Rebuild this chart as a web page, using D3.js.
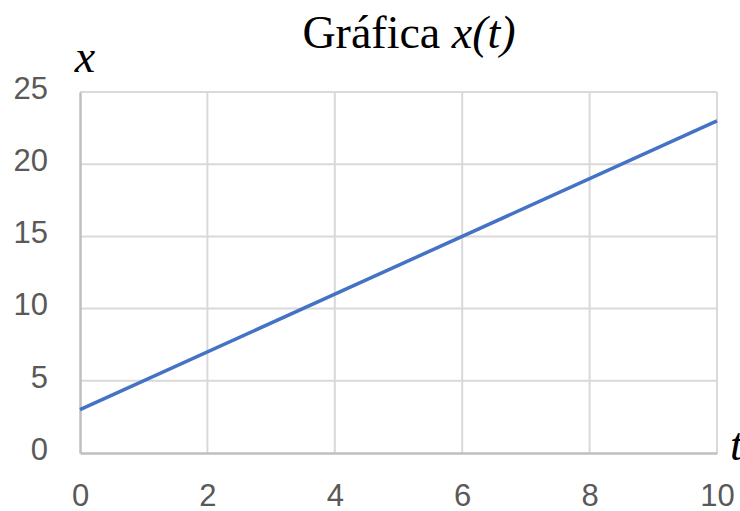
<!DOCTYPE html>
<html>
<head>
<meta charset="utf-8">
<script src="https://cdn.jsdelivr.net/npm/d3@7"></script>
<style>
  html, body { margin: 0; padding: 0; background: #fff; }
  svg { display: block; }
</style>
</head>
<body>
<svg id="chart" width="740" height="511"></svg>
<script>
// Position x as a function of time t
const tValues = [0, 10];
const xValues = [3, 23];
const xTicks = [0, 2, 4, 6, 8, 10];
const yTicks = [0, 5, 10, 15, 20, 25];

const svg = d3.select("#chart");
const plot = { left: 80, right: 717, top: 92, bottom: 453 };

const sx = d3.scaleLinear().domain([0, 10]).range([plot.left, plot.right]);
const sy = d3.scaleLinear().domain([0, 25]).range([plot.bottom, plot.top]);

const grid = "#d9d9d9";
const axisCol = "#bfbfbf";
const tickText = "#595959";

// vertical gridlines
svg.append("g").selectAll("line").data(xTicks.slice(1)).join("line")
  .attr("x1", d => sx(d)).attr("x2", d => sx(d))
  .attr("y1", plot.top).attr("y2", plot.bottom)
  .attr("stroke", grid).attr("stroke-width", 2);

// horizontal gridlines
svg.append("g").selectAll("line").data(yTicks.slice(1)).join("line")
  .attr("x1", plot.left).attr("x2", plot.right)
  .attr("y1", d => sy(d)).attr("y2", d => sy(d))
  .attr("stroke", grid).attr("stroke-width", 2);

// axes: left and bottom, drawn with d3 axis generators
const yAxis = svg.append("g").attr("transform", `translate(${plot.left},0)`)
  .call(d3.axisLeft(sy).tickValues(yTicks).tickSize(0).tickPadding(32).tickFormat(d3.format("d")));
const xAxis = svg.append("g").attr("transform", `translate(0,${plot.bottom})`)
  .call(d3.axisBottom(sx).tickValues(xTicks).tickSize(0).tickPadding(30).tickFormat(d3.format("d")));

[yAxis, xAxis].forEach(g => {
  g.select(".domain").attr("stroke", axisCol).attr("stroke-width", 2.5);
  g.selectAll("text")
    .attr("fill", tickText)
    .style("font-family", "'Liberation Sans', Arial, sans-serif")
    .style("font-size", "31px");
});
yAxis.selectAll("text").attr("dy", "0.2em");
xAxis.selectAll("text").attr("dy", "0.74em");

// data line
const line = d3.line().x((d, i) => sx(tValues[i])).y(d => sy(d));
svg.append("path")
  .datum(xValues)
  .attr("d", line)
  .attr("fill", "none")
  .attr("stroke", "#4472c4")
  .attr("stroke-width", 3.5)
  .attr("stroke-linecap", "butt");

// title
const title = svg.append("text")
  .attr("x", 409).attr("y", 48)
  .attr("text-anchor", "middle")
  .style("font-family", "'Liberation Serif', 'Times New Roman', serif")
  .style("font-size", "46px")
  .attr("fill", "#000");
title.append("tspan").text("Gráfica ");
title.append("tspan").style("font-style", "italic").text("x(t)");

// axis names
svg.append("text")
  .attr("x", 85).attr("y", 72)
  .attr("text-anchor", "middle")
  .style("font-family", "'Liberation Serif', 'Times New Roman', serif")
  .style("font-style", "italic")
  .style("font-size", "46px")
  .text("x");

svg.append("text")
  .attr("x", 730).attr("y", 460)
  .style("font-family", "'Liberation Serif', 'Times New Roman', serif")
  .style("font-style", "italic")
  .style("font-size", "46px")
  .text("t");
</script>
</body>
</html>
